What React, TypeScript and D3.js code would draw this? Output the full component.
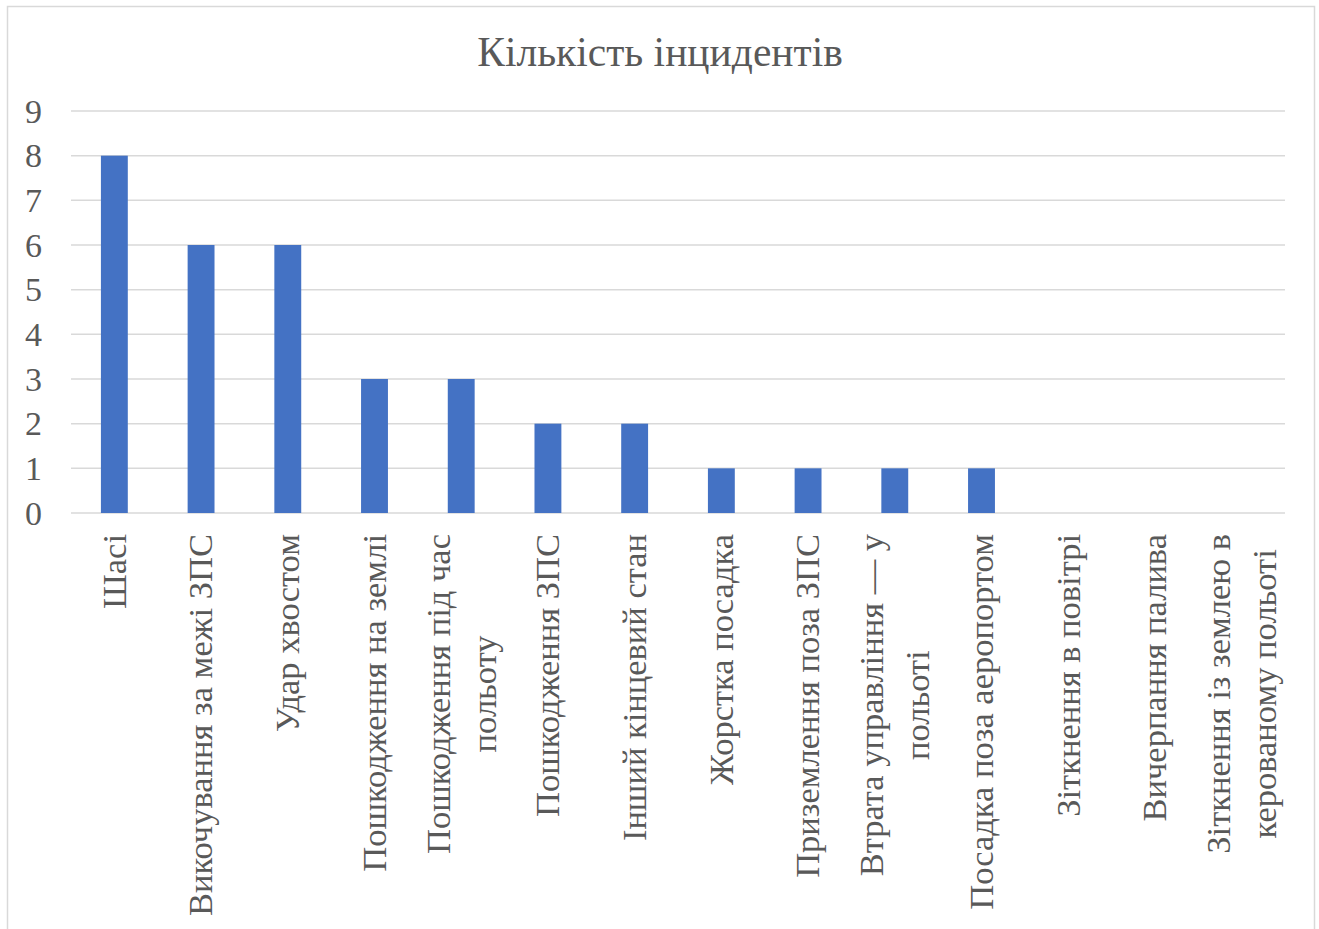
import React, { useEffect, useRef } from "react";
import * as d3 from "d3";

const categories: string[] = [
  "Шасі",
  "Викочування за межі ЗПС",
  "Удар хвостом",
  "Пошкодження на землі",
  "Пошкодження під час\nпольоту",
  "Пошкодження ЗПС",
  "Інший кінцевий стан",
  "Жорстка посадка",
  "Приземлення поза ЗПС",
  "Втрата управління — у\nпольоті",
  "Посадка поза аеропортом",
  "Зіткнення в повітрі",
  "Вичерпання палива",
  "Зіткнення із землею в\nкерованому польоті",
];
const values: number[] = [8, 6, 6, 3, 3, 2, 2, 1, 1, 1, 1, 0, 0, 0];
const yTicks: number[] = [0, 1, 2, 3, 4, 5, 6, 7, 8, 9];
const title = "Кількість інцидентів";

const W = 1319;
const H = 929;
const FONT = "'Liberation Serif', 'Times New Roman', serif";
const TEXT = "#595959";

export default function App() {
  const ref = useRef<SVGSVGElement>(null);
  useEffect(() => {
    const svg = d3.select(ref.current);
    svg.selectAll("*").remove();

    svg.append("rect")
      .attr("x", 7.5).attr("y", 6.5).attr("width", 1307).attr("height", 940)
      .attr("fill", "#fff").attr("stroke", "#d9d9d9").attr("stroke-width", 1.5);

    const x = d3.scaleBand<string>().domain(categories).range([71, 1285])
      .paddingInner(0.69).paddingOuter(0.345);
    const y = d3.scaleLinear().domain([0, 9]).range([513, 111]);

    svg.append("text").attr("x", 660).attr("y", 66).attr("text-anchor", "middle")
      .attr("font-family", FONT).attr("font-size", 41.5).attr("fill", TEXT).text(title);

    svg.append("g").selectAll("line").data(yTicks).join("line")
      .attr("x1", 71).attr("x2", 1285)
      .attr("y1", (d) => y(d)).attr("y2", (d) => y(d))
      .attr("stroke", "#d9d9d9").attr("stroke-width", 1.5);

    svg.append("g").selectAll("text").data(yTicks).join("text")
      .attr("x", 42).attr("y", (d) => y(d) + 11.5).attr("text-anchor", "end")
      .attr("font-family", FONT).attr("font-size", 34).attr("fill", TEXT)
      .text((d) => String(d));

    svg.append("g").selectAll("rect").data(values).join("rect")
      .attr("x", (_, i) => x(categories[i])!)
      .attr("width", x.bandwidth())
      .attr("y", (d) => y(d))
      .attr("height", (d) => y(0) - y(d))
      .attr("fill", "#4472C4");

    const fs = 34.5;
    const lh = 46;
    const capH = fs * 0.66;
    const gl = svg.append("g");
    categories.forEach((c, i) => {
      const lines = c.split("\n");
      const cx = x(c)! + x.bandwidth() / 2;
      const g = gl.append("g");
      const texts = lines.map((ln) =>
        g.append("text").attr("font-family", FONT).attr("font-size", fs)
          .attr("fill", TEXT).attr("text-anchor", "middle").text(ln)
      );
      const widths = texts.map((t) => (t.node() as SVGTextElement).getComputedTextLength());
      const maxW = Math.max(...widths);
      const cy = 534 + maxW / 2;
      texts.forEach((t, k) => {
        const px = cx + (k - (lines.length - 1) / 2) * lh + capH / 2;
        t.attr("transform", `translate(${px},${cy}) rotate(-90)`);
      });
    });
  }, []);
  return <svg ref={ref} width={W} height={H} style={{ position: "absolute", left: 0, top: 0 }} />;
}
